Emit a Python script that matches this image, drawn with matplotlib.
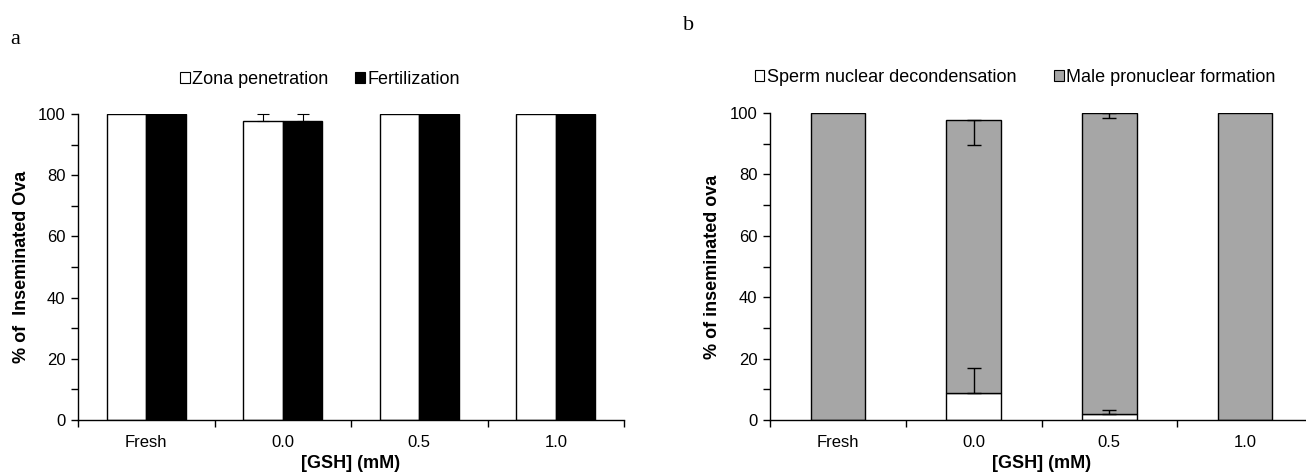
import matplotlib
matplotlib.use('Agg')
import matplotlib.pyplot as plt
from matplotlib.patches import Patch
from matplotlib.ticker import MultipleLocator, FixedLocator

plt.rcParams['font.family'] = ['Liberation Sans', 'DejaVu Sans']

# data
categories = ['Fresh', '0.0', '0.5', '1.0']
zona = [100, 97.7, 100, 100]
zona_err = [0, 2.3, 0, 0]
fert = [100, 97.7, 100, 100]
fert_err = [0, 2.3, 0, 0]
decond = [0, 8.8, 1.8, 0]
decond_err = [0, 8.3, 1.5, 0]
pronuc = [100, 89.0, 98.2, 100]
pronuc_err = [0, 8.3, 1.7, 0]

W, H = 1306, 474
fig = plt.figure(figsize=(W / 100, H / 100), dpi=100)

def px_axes(x0, x1, ytop, ybot):
    return [x0 / W, 1 - ybot / H, (x1 - x0) / W, (ybot - ytop) / H]

ax_a = fig.add_axes(px_axes(78, 624, 114, 420))
ax_b = fig.add_axes(px_axes(770, 1313, 113, 420))

x = list(range(len(categories)))

def style_axes(ax, ylabel):
    for s in ['top', 'right']:
        ax.spines[s].set_visible(False)
    ax.set_xlim(-0.5, len(categories) - 0.5)
    ax.set_ylim(0, 100)
    ax.yaxis.set_major_locator(MultipleLocator(20))
    ax.yaxis.set_minor_locator(MultipleLocator(10))
    ax.tick_params(axis='y', which='both', direction='out', length=5, width=1, labelsize=12, pad=4)
    ax.set_xticks(x)
    ax.set_xticklabels(categories)
    ax.xaxis.set_minor_locator(FixedLocator([i - 0.5 for i in range(len(categories) + 1)]))
    ax.tick_params(axis='x', which='major', length=0, labelsize=12, pad=11)
    ax.tick_params(axis='x', which='minor', direction='out', length=5, width=1)
    ax.set_xlabel('[GSH] (mM)', fontsize=13, fontweight='bold')
    ax.xaxis.set_label_coords(0.5, -0.115)
    ax.set_ylabel(ylabel, fontsize=13, fontweight='bold')
    for s in ['left', 'bottom']:
        ax.spines[s].set_linewidth(1)

# panel a
bw = 0.29
xa1 = [i - bw / 2 for i in x]
xa2 = [i + bw / 2 for i in x]
ax_a.bar(xa1, zona, bw, color='white', edgecolor='black', linewidth=1, zorder=2)
ax_a.bar(xa2, fert, bw, color='black', edgecolor='black', linewidth=1, zorder=2)
for xs, vals, errs in [(xa1, zona, zona_err), (xa2, fert, fert_err)]:
    for xi, v, e in zip(xs, vals, errs):
        if e > 0:
            ax_a.errorbar(xi, v, yerr=[[0], [e]], color='black', elinewidth=0.8,
                          capsize=4, capthick=0.8, clip_on=False, zorder=3)
style_axes(ax_a, '% of  Inseminated Ova')
ax_a.yaxis.set_label_coords(-0.088, 0.5)
ax_a.legend(handles=[Patch(facecolor='white', edgecolor='black', linewidth=0.8, label='Zona penetration'),
                     Patch(facecolor='black', edgecolor='black', linewidth=0.8, label='Fertilization')],
            loc='center', bbox_to_anchor=(320 / W, 1 - 79 / H), bbox_transform=fig.transFigure,
            ncol=2, frameon=False, fontsize=13, handlelength=0.55, handleheight=0.55,
            handletextpad=0.12, columnspacing=1.5)

# panel b
bwb = 0.4
gray = '#a6a6a6'
ax_b.bar(x, decond, bwb, color='white', edgecolor='black', linewidth=1, zorder=2)
ax_b.bar(x, pronuc, bwb, bottom=decond, color=gray, edgecolor='black', linewidth=1, zorder=2)
for xi, v, e in zip(x, decond, decond_err):
    if e > 0:
        ax_b.errorbar(xi, v, yerr=[[0], [e]], color='black', elinewidth=1,
                      capsize=5, capthick=1, zorder=3)
for xi, b, v, e in zip(x, decond, pronuc, pronuc_err):
    if e > 0:
        ax_b.errorbar(xi, b + v, yerr=[[e], [0]], color='black', elinewidth=1,
                      capsize=5, capthick=1, zorder=3)
style_axes(ax_b, '% of inseminated ova')
ax_b.yaxis.set_label_coords(-0.09, 0.5)
ax_b.legend(handles=[Patch(facecolor='white', edgecolor='black', linewidth=0.8, label='Sperm nuclear decondensation'),
                     Patch(facecolor=gray, edgecolor='black', linewidth=0.8, label='Male pronuclear formation')],
            loc='center', bbox_to_anchor=(1015 / W, 1 - 77 / H), bbox_transform=fig.transFigure,
            ncol=2, frameon=False, fontsize=13, handlelength=0.55, handleheight=0.55,
            handletextpad=0.12, columnspacing=2.1)

# panel letters
fig.text(10 / W, 1 - 39 / H, 'a', family='Liberation Serif', fontsize=16, va='center')
fig.text(683 / W, 1 - 25 / H, 'b', family='Liberation Serif', fontsize=16, va='center')

fig.savefig('out.png', dpi=100)
